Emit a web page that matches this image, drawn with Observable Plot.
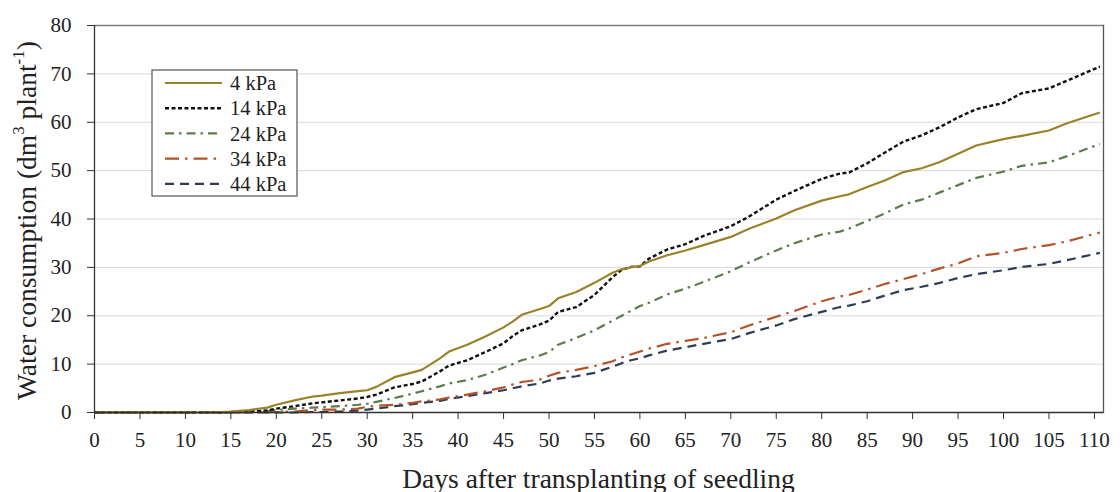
<!DOCTYPE html>
<html>
<head>
<meta charset="utf-8">
<script src="https://cdn.jsdelivr.net/npm/d3@7"></script>
<script src="https://cdn.jsdelivr.net/npm/@observablehq/plot@0.6"></script>
<style>
  html, body { margin: 0; padding: 0; background: #fff; }
  #chart { width: 1120px; height: 492px; }
</style>
</head>
<body>
<div id="chart"></div>
<script>
// ---- data ----
const days   = [0, 5, 10, 13, 15, 17, 19, 20, 22, 24, 25, 27, 29, 30, 31, 33, 35, 36, 38, 39, 41, 43, 45, 46, 47, 49, 50, 51, 53, 55, 57, 58, 59, 60, 61, 63, 65, 67, 70, 72, 75, 77, 80, 82, 83, 85, 87, 89, 91, 93, 95, 97, 100, 102, 105, 107, 110.6];
const kpa4   = [0, 0, 0, 0, 0.2, 0.5, 1.0, 1.6, 2.5, 3.3, 3.5, 4.0, 4.4, 4.6, 5.3, 7.3, 8.3, 8.8, 11.2, 12.6, 14.0, 15.7, 17.6, 18.8, 20.2, 21.4, 22.0, 23.6, 24.9, 26.8, 28.9, 29.6, 30.0, 30.3, 31.2, 32.5, 33.5, 34.6, 36.3, 38.0, 40.1, 41.8, 43.8, 44.7, 45.1, 46.6, 48.0, 49.7, 50.5, 51.8, 53.5, 55.2, 56.5, 57.2, 58.3, 59.8, 62.0];
const kpa14  = [0, 0, 0, 0, 0.1, 0.2, 0.4, 0.8, 1.3, 1.9, 2.1, 2.5, 2.9, 3.2, 3.7, 5.2, 5.9, 6.4, 8.5, 9.7, 10.8, 12.5, 14.3, 15.8, 17.0, 18.2, 19.0, 20.8, 21.8, 24.3, 28.0, 29.5, 30.1, 30.2, 31.8, 33.7, 34.8, 36.5, 38.5, 40.5, 44.0, 45.8, 48.3, 49.4, 49.6, 51.5, 53.8, 56.0, 57.3, 59.0, 61.0, 62.7, 64.0, 66.0, 67.0, 68.6, 71.5];
const kpa24  = [0, 0, 0, 0, 0, 0.1, 0.3, 0.5, 0.8, 1.0, 1.1, 1.3, 1.6, 1.8, 2.2, 3.0, 3.9, 4.4, 5.4, 6.0, 6.7, 7.8, 9.3, 10.0, 10.8, 11.8, 12.5, 14.0, 15.4, 17.0, 19.0, 20.0, 21.0, 22.0, 22.7, 24.4, 25.6, 27.0, 29.2, 31.0, 33.5, 35.0, 36.8, 37.4, 38.0, 39.6, 41.2, 43.0, 44.0, 45.5, 47.0, 48.5, 49.8, 51.0, 51.7, 53.0, 55.5];
const kpa34  = [0, 0, 0, 0, 0, 0, 0, 0.1, 0.2, 0.5, 0.6, 0.6, 0.8, 1.2, 1.4, 1.6, 2.0, 2.3, 2.7, 3.1, 3.7, 4.4, 5.2, 5.8, 6.3, 6.8, 7.6, 8.2, 8.8, 9.6, 10.6, 11.4, 12.0, 12.6, 13.2, 14.2, 14.8, 15.4, 16.6, 18.0, 19.8, 21.0, 23.0, 24.0, 24.3, 25.4, 26.6, 27.6, 28.6, 29.8, 30.8, 32.3, 33.0, 33.8, 34.6, 35.4, 37.2];
const kpa44  = [0, 0, 0, 0, 0, 0, 0, 0, 0, 0.1, 0.1, 0.2, 0.4, 0.6, 0.8, 1.3, 1.7, 2.0, 2.4, 2.8, 3.4, 4.0, 4.6, 5.0, 5.4, 6.0, 6.6, 7.0, 7.5, 8.2, 9.5, 10.2, 10.8, 11.2, 11.8, 12.8, 13.5, 14.2, 15.2, 16.4, 18.0, 19.3, 20.8, 21.8, 22.1, 23.0, 24.2, 25.3, 26.0, 26.8, 27.8, 28.6, 29.4, 30.1, 30.7, 31.5, 33.0];
const seriesNames = ["4 kPa", "14 kPa", "24 kPa", "34 kPa", "44 kPa"];
const xTicks = [0, 5, 10, 15, 20, 25, 30, 35, 40, 45, 50, 55, 60, 65, 70, 75, 80, 85, 90, 95, 100, 105, 110];
const yTicks = [0, 10, 20, 30, 40, 50, 60, 70, 80];
const xTitle = "Days after transplanting of seedling";

// ---- styles ----
const seriesStyle = {
  "4 kPa":  {stroke: "#9a8228", dash: null,          width: 2.2},
  "14 kPa": {stroke: "#111111", dash: "4,2.5",       width: 2.4},
  "24 kPa": {stroke: "#5f7a4f", dash: "9,5,2.5,5",   width: 2.2},
  "34 kPa": {stroke: "#b4532a", dash: "14,6,2.5,6",  width: 2.2},
  "44 kPa": {stroke: "#2e3d55", dash: "9,6",         width: 2.2}
};
const FONT = "'Liberation Serif', 'Times New Roman', serif";

const valuesBySeries = [kpa4, kpa14, kpa24, kpa34, kpa44];
const rows = [];
seriesNames.forEach((name, i) => {
  days.forEach((d, j) => rows.push({series: name, day: d, value: valuesBySeries[i][j]}));
});

const W = 1120, H = 492;
const mL = 94, mR = 17, mT = 25, mB = 80;

const lineMarks = seriesNames.slice().reverse().map(name => Plot.lineY(
  rows.filter(r => r.series === name),
  {x: "day", y: "value", stroke: seriesStyle[name].stroke,
   strokeWidth: seriesStyle[name].width,
   strokeDasharray: seriesStyle[name].dash || undefined,
   strokeLinejoin: "round", strokeLinecap: "butt"}
));

const chart = Plot.plot({
  width: W, height: H,
  marginLeft: mL, marginRight: mR, marginTop: mT, marginBottom: mB,
  style: {fontFamily: FONT, background: "#fff", overflow: "visible"},
  x: {domain: [0, 111]},
  y: {domain: [0, 80]},
  marks: [
    Plot.gridY(yTicks, {stroke: "#d9d9d9", strokeOpacity: 1, strokeWidth: 1}),
    Plot.ruleY([80], {stroke: "#7f7f7f", strokeWidth: 1.5}),
    Plot.frame({anchor: "right", stroke: "#555", strokeWidth: 1.3}),
    ...lineMarks,
    Plot.ruleY([0], {stroke: "#333", strokeWidth: 1.3}),
    Plot.ruleX([0], {stroke: "#333", strokeWidth: 1.3}),
    Plot.axisX(xTicks, {tickSize: 7, tickPadding: 13, fontSize: 21, stroke: "#333", color: "#222", label: null, tickFormat: d => String(d)}),
    Plot.axisY(yTicks, {tickSize: 7, tickPadding: 16, fontSize: 21, stroke: "#333", color: "#222", label: null, tickFormat: d => String(d)})
  ]
});

const svg = d3.select(chart);
svg.attr("font-family", FONT);

// x-axis title
svg.append("text")
  .attr("x", (mL + (W - mR)) / 2).attr("y", 488)
  .attr("text-anchor", "middle")
  .attr("font-size", 27.5).attr("fill", "#222")
  .attr("font-family", FONT)
  .text(xTitle);

// y-axis title with superscripts
const yt = svg.append("text")
  .attr("transform", `translate(30,${(mT + (H - mB)) / 2 + 2}) rotate(-90)`)
  .attr("text-anchor", "middle")
  .attr("dominant-baseline", "middle")
  .attr("font-size", 27.5).attr("fill", "#222")
  .attr("font-family", FONT);
yt.append("tspan").text("Water consumption (dm");
yt.append("tspan").attr("font-size", 17).attr("dy", -10).text("3");
yt.append("tspan").attr("dy", 10).text(" plant");
yt.append("tspan").attr("font-size", 17).attr("dy", -10).text("-1");
yt.append("tspan").attr("dy", 10).text(")");

// legend
const lg = svg.append("g");
lg.append("rect").attr("x", 152).attr("y", 70).attr("width", 145).attr("height", 126)
  .attr("fill", "#fff").attr("stroke", "#555").attr("stroke-width", 1.2);
seriesNames.forEach((name, i) => {
  const y = 83 + i * 25.2;
  const st = seriesStyle[name];
  lg.append("line").attr("x1", 165).attr("x2", 222).attr("y1", y).attr("y2", y)
    .attr("stroke", st.stroke).attr("stroke-width", st.width)
    .attr("stroke-dasharray", st.dash || null);
  lg.append("text").attr("x", 230).attr("y", y).attr("dy", "0.35em")
    .attr("text-anchor", "start")
    .attr("font-size", 20.5).attr("fill", "#222").attr("font-family", FONT)
    .text(name);
});

document.getElementById("chart").appendChild(chart);
</script>
</body>
</html>
